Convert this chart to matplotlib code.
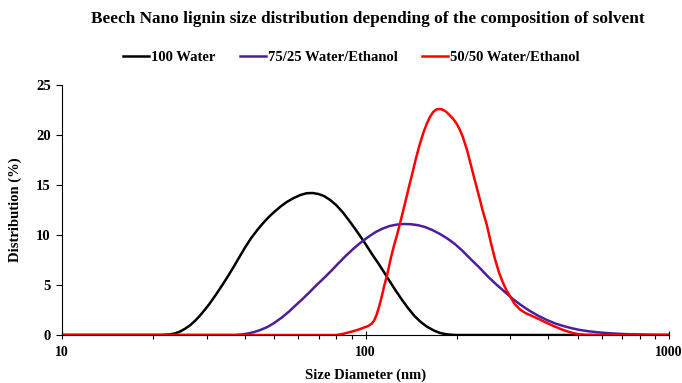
import matplotlib
matplotlib.use("Agg")
import matplotlib.pyplot as plt
from matplotlib.ticker import LogLocator, NullFormatter, FixedLocator

plt.rcParams['font.family'] = ['Liberation Serif', 'DejaVu Serif']
plt.rcParams['font.weight'] = 'bold'

# values
water_size = [10, 21, 22.5, 23.5, 24.5, 25.5, 26.5, 27.5, 28.5, 29.5, 30.5, 31.5, 32.5, 34,
              35.5, 37, 38.5, 40, 42, 44, 46, 48, 50, 52.5, 55, 58, 61, 64, 67, 70, 73,
              76.5, 80, 84, 88, 92, 96, 100, 105, 110, 115, 120, 126, 132, 138, 145, 152,
              160, 168, 176, 185, 195, 205, 1000]
water_dist = [0, 0, 0.05, 0.15, 0.35, 0.65, 1.0, 1.45, 1.95, 2.5, 3.05, 3.65, 4.25, 5.15,
              6.05, 6.95, 7.85, 8.7, 9.7, 10.5, 11.2, 11.8, 12.3, 12.85, 13.3, 13.7, 14.0, 14.18,
              14.2, 14.1, 13.9, 13.5, 13.0, 12.3, 11.5, 10.7, 9.9, 9.1, 8.1, 7.2, 6.3, 5.4,
              4.4, 3.5, 2.7, 1.9, 1.3, 0.8, 0.45, 0.2, 0.07, 0.01, 0, 0]

mix75_size = [10, 37, 39, 41, 43, 45, 47.5, 50, 53, 56, 59, 62, 65.5, 69, 73, 77, 81, 86,
              91, 96, 102, 108, 114, 120, 127, 134, 141, 149, 157, 166, 176, 186, 197, 209,
              222, 238, 254, 271, 288, 306, 325, 348, 372, 396, 422, 448, 478, 509, 545,
              580, 620, 665, 720, 780, 850, 920, 1000]
mix75_dist = [0, 0, 0.05, 0.15, 0.3, 0.5, 0.8, 1.2, 1.75, 2.35, 3.0, 3.6, 4.3, 5.0, 5.7,
              6.4, 7.1, 7.9, 8.6, 9.2, 9.8, 10.3, 10.65, 10.9, 11.05, 11.1, 11.08, 10.98,
              10.8, 10.5, 10.1, 9.65, 9.1, 8.4, 7.6, 6.7, 5.8, 5.0, 4.3, 3.6, 3.0, 2.4, 1.9,
              1.5, 1.15, 0.9, 0.68, 0.5, 0.37, 0.28, 0.2, 0.14, 0.09, 0.06, 0.03, 0.01, 0]

mix50_size = [10, 80, 84, 89, 94, 98, 102, 105, 107, 109, 111, 113, 115, 118, 121, 124,
              127, 131, 135, 139, 143, 147, 151, 155, 159, 163, 167, 171, 175, 179, 184,
              189, 194, 199, 204, 209, 216, 222, 229, 236, 243, 251, 259, 267, 275, 283,
              291, 299, 310, 323, 336, 348, 360, 378, 396, 420, 448, 475, 500, 530, 560, 1000]
mix50_dist = [0, 0, 0.1, 0.3, 0.5, 0.7, 0.9, 1.15, 1.5, 2.1, 2.9, 3.8, 4.8, 6.1, 7.6, 8.9,
              10.0, 11.6, 13.2, 14.8, 16.3, 17.8, 19.1, 20.2, 21.1, 21.8, 22.3, 22.55, 22.6,
              22.55, 22.35, 22.0, 21.65, 21.2, 20.6, 19.85, 18.5, 17.1, 15.5, 14.0, 12.5, 11.0,
              9.2, 7.6, 6.3, 5.3, 4.5, 3.9, 3.1, 2.55, 2.2, 2.0, 1.8, 1.5, 1.2, 0.85, 0.5,
              0.25, 0.1, 0.02, 0, 0]

labels = ['100 Water', '75/25 Water/Ethanol', '50/50 Water/Ethanol']
colors = ['black', '#4B1E9E', '#FF0000']

fig = plt.figure(figsize=(6.82, 3.83), dpi=100)
ax = fig.add_axes([0.0909, 0.1253, 0.8901, 0.6527])

ax.plot(water_size, water_dist, color=colors[0], lw=1.8, label=labels[0])
ax.plot(mix75_size, mix75_dist, color=colors[1], lw=1.8, label=labels[1])
ax.plot(mix50_size, mix50_dist, color=colors[2], lw=1.8, label=labels[2])

ax.set_xscale('log')
ax.set_xlim(10, 1000)
ax.set_ylim(0, 25)
ax.set_yticks([0, 5, 10, 15, 20, 25])
ax.xaxis.set_major_locator(FixedLocator([10, 100, 1000]))
ax.set_xticklabels(['10', '100', '1000'])
ax.xaxis.set_minor_locator(LogLocator(base=10, subs=range(2, 10)))
ax.xaxis.set_minor_formatter(NullFormatter())

for s in ['top', 'right']:
    ax.spines[s].set_visible(False)
ax.spines['left'].set_linewidth(0.8)
ax.spines['bottom'].set_linewidth(0.8)
ax.tick_params(axis='y', direction='out', length=4, width=0.8, labelsize=10.5, pad=4)
ax.tick_params(axis='x', which='major', direction='inout', length=6, width=0.8,
               labelsize=10, pad=5)
ax.tick_params(axis='x', which='minor', direction='out', length=3, width=0.8)

ax.set_xlabel('Size Diameter (nm)', fontsize=10.5, fontweight='bold', labelpad=7)
ax.set_ylabel('Distribution (%)', fontsize=10.5, fontweight='bold', labelpad=10)

fig.text(0.540, 0.950, 'Beech Nano lignin size distribution depending of the composition of solvent',
         ha='center', va='center', fontsize=12.4, fontweight='bold')

fig.legend(loc='center', bbox_to_anchor=(0.515, 0.851), ncol=3, frameon=False,
           handlelength=1.8, handletextpad=0.1, columnspacing=1.7,
           prop={'weight': 'bold', 'size': 10.5})

fig.savefig('out.png', dpi=100)
